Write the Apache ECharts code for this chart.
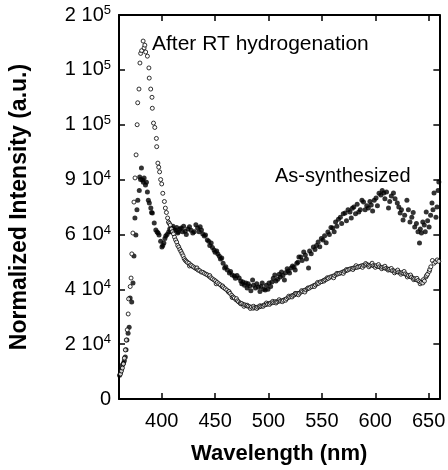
<!DOCTYPE html>
<html><head><meta charset="utf-8">
<script src="https://cdn.jsdelivr.net/npm/echarts@6/dist/echarts.min.js"></script>
<style>html,body{margin:0;padding:0;background:#fff}#c{width:448px;height:470px}</style>
</head><body><div id="c"></div><script>
// x tick values (nm)
const xTicks = [400, 450, 500, 550, 600, 650];
// y tick labels as [mantissa, exponent] for ticks 0,2,...,14 (x10^4)
const yTickLabels = [['0',''],['2 10','4'],['4 10','4'],['6 10','4'],['9 10','4'],['1 10','5'],['1 10','5'],['2 10','5']];
// After RT hydrogenation (open circles): [wavelength nm, intensity x10^4]
const afterRT = [[361.4,0.91],[362.3,1.02],[363.2,1.13],[364.1,1.28],[365,1.49],[365.9,1.79],[366.8,2.15],[367.7,2.52],[368.6,3.1],[369,3.65],[370.5,4.1],[371.3,4.41],[372,5.29],[373,6.05],[374,7.18],[375,8.06],[376,8.9],[377,10.0],[377.5,10.8],[378.7,11.3],[379.6,12.25],[380.3,12.6],[381.2,12.7],[382.6,13.05],[383.5,12.8],[384.2,12.9],[385,12.65],[386.6,12.5],[388,12.07],[388.3,11.7],[389.7,11.3],[390.9,11.0],[391.2,10.6],[392.3,10.06],[393.5,9.9],[395,9.5],[395.3,9.2],[396.4,8.6],[397.2,8.45],[398,8.28],[399,8.0],[400,7.84],[401,7.5],[402.5,7.2],[403.4,6.96],[404.4,6.8],[405.5,6.6],[406.3,6.45],[407.2,6.4],[408,6.34],[409,6.2],[410,6.1],[411,6.02],[412,5.9],[413,5.8],[414,5.72],[415,5.6],[416,5.54],[417,5.45],[418,5.38],[419,5.3],[420,5.22],[421,5.12],[422,5.06],[423,5.02],[424,4.98],[425.5,4.95],[426,4.85],[427,4.89],[428,4.86],[429.5,4.82],[431,4.78],[432.5,4.75],[433,4.78],[434,4.7],[435.5,4.68],[437,4.63],[438.5,4.62],[440,4.58],[441.5,4.55],[443,4.52],[444.5,4.47],[445,4.5],[446,4.42],[447.5,4.38],[449,4.34],[450.5,4.3],[451,4.2],[452,4.25],[453.5,4.2],[455,4.16],[456.5,4.1],[457,4.12],[458,4.06],[459.5,4.02],[461,3.97],[462.5,3.9],[463,3.92],[464,3.85],[465.5,3.78],[466,3.7],[467,3.72],[468,3.68],[469.5,3.62],[470,3.66],[471,3.58],[472,3.54],[473.5,3.5],[474,3.47],[475,3.48],[476.5,3.44],[477,3.38],[478,3.43],[479.5,3.4],[480,3.42],[481,3.38],[482.5,3.36],[483,3.3],[484,3.35],[485.5,3.31],[486,3.38],[487,3.33],[488.5,3.34],[489,3.3],[490,3.35],[491.5,3.36],[492,3.4],[493,3.38],[494.5,3.4],[495,3.38],[496,3.43],[497.5,3.44],[498,3.5],[499,3.46],[500.5,3.48],[501,3.45],[502,3.5],[503.5,3.51],[504,3.56],[505,3.52],[506.5,3.55],[507,3.5],[508,3.54],[509.5,3.57],[510,3.62],[511,3.57],[512.5,3.58],[513,3.55],[514,3.6],[515.5,3.63],[516,3.6],[517,3.66],[518.5,3.7],[519,3.75],[520,3.72],[521.5,3.76],[522,3.72],[523,3.78],[524.5,3.8],[525,3.85],[526,3.84],[527.5,3.85],[528,3.8],[529,3.86],[530.5,3.9],[531,3.95],[532,3.92],[533.5,3.96],[534,3.9],[535,3.98],[536.5,4.02],[537,4.05],[538,4.04],[539.5,4.08],[541,4.1],[542.5,4.14],[543,4.1],[544,4.16],[545.5,4.2],[546,4.25],[547,4.22],[548.5,4.27],[550,4.28],[551.5,4.32],[552,4.3],[553,4.35],[554.5,4.37],[555,4.42],[556,4.4],[557.5,4.44],[559,4.46],[560.5,4.48],[561,4.42],[562,4.5],[563.5,4.54],[564,4.58],[565,4.56],[566.5,4.58],[568,4.6],[569.5,4.63],[570,4.58],[571,4.65],[572.5,4.68],[573,4.72],[574,4.7],[575.5,4.73],[577,4.75],[578.5,4.76],[579,4.72],[580,4.78],[581.5,4.8],[582,4.86],[583,4.8],[584.5,4.82],[586,4.84],[587.5,4.86],[588,4.8],[589,4.87],[590.5,4.88],[591,4.94],[592,4.9],[593.5,4.88],[594,4.82],[595,4.87],[596.5,4.9],[597,4.95],[598,4.86],[599.5,4.85],[600,4.8],[601,4.86],[602.5,4.83],[603,4.9],[604,4.82],[605.5,4.8],[606,4.75],[607,4.8],[608.5,4.78],[609,4.84],[610,4.76],[611.5,4.74],[612,4.7],[613,4.73],[614.5,4.7],[615,4.76],[616,4.68],[617.5,4.67],[618,4.6],[619,4.65],[620.5,4.64],[621,4.7],[622,4.62],[623.5,4.6],[624,4.55],[625,4.6],[626.5,4.58],[627,4.65],[628,4.56],[629.5,4.52],[630,4.45],[631,4.5],[632.5,4.46],[633,4.52],[634,4.44],[635.5,4.4],[636,4.35],[637,4.38],[638.5,4.35],[639,4.4],[640,4.32],[641.5,4.28],[642,4.2],[643,4.25],[644.5,4.23],[645,4.35],[646,4.3],[647.5,4.45],[648,4.5],[649,4.55],[650.5,4.65],[651,4.72],[652,4.82],[653.5,5.05],[655,4.95],[656.5,5.0],[658,5.07],[659.5,5.02]];
// As-synthesized (filled dots): [wavelength nm, intensity x10^4]
const asSynth = [[360.5,0.87],[361.4,0.98],[362.3,1.1],[363.2,1.24],[364.1,1.3],[365,1.39],[365.9,1.53],[366.6,1.8],[367.4,2.15],[368.5,2.4],[369.5,2.62],[370.4,3.68],[371.9,3.54],[373.1,4.23],[374,5.21],[375.8,5.98],[374.9,6.6],[376.8,6.9],[377.6,7.25],[379,7.6],[379.4,8.09],[380.2,8.0],[381,8.42],[382.1,7.98],[382.8,7.9],[383.5,8.06],[384.8,7.8],[385.7,7.9],[386.6,7.55],[387.5,7.25],[388.4,7.15],[389.8,6.96],[390.5,6.8],[391.2,6.78],[393,6.42],[394.5,6.16],[395.7,6.09],[396.6,6.05],[397.5,5.98],[399,5.75],[400.2,5.54],[401,5.6],[402,5.69],[403,5.85],[403.8,5.94],[405,6.0],[406.5,6.09],[407.5,6.2],[408.5,6.1],[409.2,6.23],[410.5,6.3],[411.5,6.15],[412.8,6.16],[414,6.25],[415,6.05],[415.6,6.09],[417,6.2],[418.3,6.23],[419.5,6.1],[420.5,6.3],[421.9,6.12],[423,6.0],[424.6,6.2],[426,6.28],[427.5,6.15],[429.1,6.05],[430.5,6.1],[432,6.35],[433.6,6.23],[435,6.1],[436,6.28],[437.2,6.16],[438.5,6.02],[439.9,5.94],[441,5.98],[442.7,5.8],[444,5.75],[445,5.6],[446.3,5.69],[447.5,5.52],[449,5.43],[450,5.35],[451.5,5.4],[452.6,5.29],[454,5.2],[455,5.1],[456.2,5.14],[457.5,4.95],[458.9,4.78],[460,4.82],[461.5,4.7],[463.4,4.59],[464.5,4.65],[466,4.52],[468,4.48],[469,4.4],[470.5,4.5],[472.5,4.41],[474,4.3],[475,4.2],[476.1,4.27],[477.5,4.15],[478.8,4.23],[480,4.05],[481,4.2],[482.4,4.12],[483.5,3.95],[485.1,4.34],[486,4.15],[487.8,4.05],[489,4.2],[490.5,4.08],[492,3.92],[493,4.1],[494.1,4.23],[495.5,4.0],[496.9,3.97],[498,4.15],[499.5,4.0],[500.5,4.23],[502,4.1],[503.2,4.27],[504.5,4.4],[505.9,4.52],[507,4.3],[508.6,4.37],[510,4.55],[511,4.45],[512.2,4.63],[513.5,4.5],[514.9,4.34],[516,4.6],[517.5,4.75],[518.5,4.67],[519.7,4.59],[521.2,4.78],[522.5,4.85],[523.9,4.81],[525,4.7],[526.5,4.95],[527.5,4.99],[528.5,5.18],[530.2,5.18],[531.5,5.05],[533,5.36],[534.5,5.25],[535.5,5.1],[537.5,4.78],[538.5,5.4],[540,5.3],[542,5.54],[543.5,5.45],[545,5.6],[546.5,5.72],[548,5.55],[549.5,5.85],[551,5.8],[552.5,5.95],[554,5.7],[555.6,6.09],[557,6.0],[558.5,6.25],[560.1,6.23],[561.5,6.1],[562.8,6.45],[564,6.3],[565.5,6.55],[567.3,6.63],[568.5,6.4],[570,6.75],[571.8,6.78],[573,6.5],[574.5,6.9],[576.3,6.82],[577.5,6.6],[578.5,6.95],[579.9,7.0],[581.5,6.75],[583,7.1],[584.5,6.82],[586,6.9],[587.5,7.25],[589,7.18],[590.5,6.9],[592,7.05],[593.5,6.96],[595,7.2],[596.2,7.07],[597.5,6.85],[599,7.25],[600.7,7.33],[602,7.05],[603.5,7.5],[605.2,7.44],[606.5,7.6],[607.9,7.51],[609,7.3],[610.5,7.55],[612.4,6.96],[613.5,7.2],[615,7.4],[617,7.51],[618.5,7.3],[620.6,7.15],[622,7.0],[623.3,6.78],[624.5,6.9],[626,6.53],[627.5,6.7],[629.6,7.25],[631,6.9],[632.5,6.45],[634.2,6.63],[635.5,6.8],[636.9,6.27],[638.5,6.4],[640,6.1],[641.4,5.69],[642.2,6.2],[643.2,6.05],[644.5,6.45],[645.9,6.34],[646.8,6.1],[647.7,6.82],[649,6.5],[650.4,6.27],[651.8,6.7],[653.1,7.15],[654,6.9],[655,7.51],[656.8,6.63],[657.8,7.0],[658.8,7.6],[659.5,7.91]];

const F = '"Liberation Sans", Arial, Helvetica, sans-serif';
const chart = echarts.init(document.getElementById('c'));
const line = {show: true, onZero: false, lineStyle: {color: '#000', width: 2}};
const tickStyle = {color: '#000', width: 1.5};
function yFmt(v) {
  const t = yTickLabels[Math.round(v / 2)];
  if (!t) return '';
  return t[1] ? '{b|' + t[0] + '}{s|' + t[1] + '}' : '{b|' + t[0] + '}';
}
chart.setOption({
  animation: false,
  grid: {left: 108, right: 7, top: 15, bottom: 71},
  xAxis: [
    {type: 'value', min: 360, max: 660, position: 'bottom', axisLine: line,
     axisTick: {inside: true, length: 6, lineStyle: tickStyle, customValues: xTicks},
     axisLabel: {customValues: xTicks, fontSize: 20, color: '#000', fontFamily: F, margin: 12},
     splitLine: {show: false},
     name: 'Wavelength (nm)', nameLocation: 'middle', nameGap: 44,
     nameTextStyle: {fontSize: 22, fontWeight: 'bold', color: '#000', fontFamily: F}},
    {type: 'value', min: 360, max: 660, position: 'top', axisLine: line,
     axisTick: {inside: true, length: 6, lineStyle: tickStyle, customValues: xTicks},
     axisLabel: {show: false}, splitLine: {show: false}}
  ],
  yAxis: [
    {type: 'value', min: 0, max: 14, interval: 2, position: 'left', axisLine: line,
     axisTick: {inside: true, length: 6, lineStyle: tickStyle},
     axisLabel: {formatter: yFmt, margin: 8, color: '#000',
       rich: {b: {fontSize: 20, fontFamily: F, color: '#000', lineHeight: 22},
              s: {fontSize: 13, fontFamily: F, color: '#000', verticalAlign: 'top', lineHeight: 14}}},
     splitLine: {show: false},
     name: 'Normalized Intensity (a.u.)', nameLocation: 'middle', nameGap: 88,
     nameTextStyle: {fontSize: 23, fontWeight: 'bold', color: '#000', fontFamily: F}},
    {type: 'value', min: 0, max: 14, interval: 2, position: 'right', axisLine: line,
     axisTick: {inside: true, length: 6, lineStyle: tickStyle},
     axisLabel: {show: false}, splitLine: {show: false}}
  ],
  series: [
    {type: 'scatter', name: 'As-synthesized', data: asSynth, symbol: 'circle', symbolSize: 5,
     itemStyle: {color: '#000'}},
    {type: 'scatter', name: 'After RT hydrogenation', data: afterRT, symbol: 'circle', symbolSize: 4,
     itemStyle: {color: '#fff', borderColor: '#000', borderWidth: 1}}
  ],
  graphic: [
    {type: 'text', left: 152, top: 34, style: {text: 'After RT hydrogenation', font: '21px ' + F, fill: '#000'}},
    {type: 'text', left: 275, top: 166, style: {text: 'As-synthesized', font: '20px ' + F, fill: '#000'}}
  ]
});
</script></body></html>
